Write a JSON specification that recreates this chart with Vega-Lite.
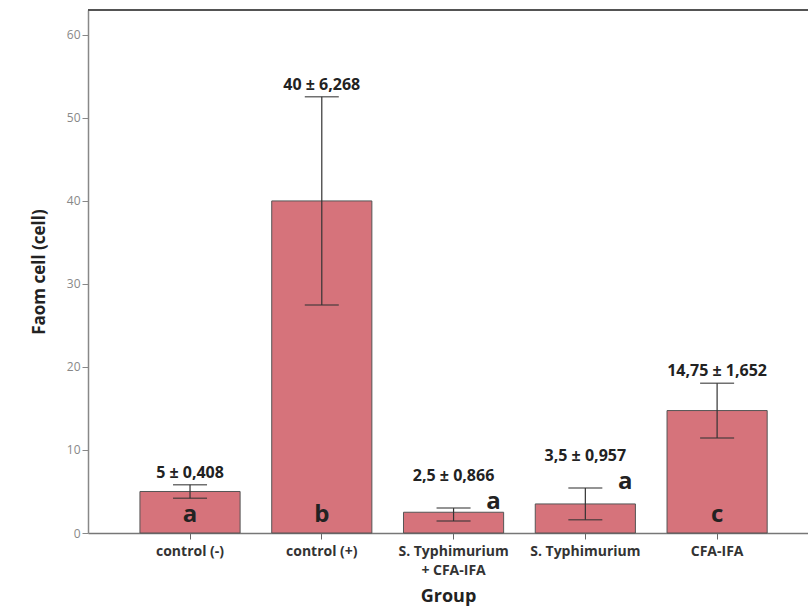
{
  "$schema": "https://vega.github.io/schema/vega-lite/v6.json",
  "width": 720,
  "height": 523,
  "autosize": {"type": "none"},
  "padding": {"left": 88, "top": 10, "right": 0, "bottom": 75},
  "background": "white",
  "config": {
    "view": {"stroke": null},
    "font": "Open Sans"
  },
  "data": {
    "values": [
      {"group": "control (-)", "mean": 5, "se": 0.408, "lo": 4.18, "hi": 5.82, "letter": "a", "label": "5 ± 0,408", "letterSpot": "inside"},
      {"group": "control (+)", "mean": 40, "se": 6.268, "lo": 27.46, "hi": 52.54, "letter": "b", "label": "40 ± 6,268", "letterSpot": "inside"},
      {"group": "S. Typhimurium + CFA-IFA", "mean": 2.5, "se": 0.866, "lo": 1.45, "hi": 3.0, "letter": "a", "label": "2,5 ± 0,866", "letterSpot": "beside"},
      {"group": "S. Typhimurium", "mean": 3.5, "se": 0.957, "lo": 1.59, "hi": 5.41, "letter": "a", "label": "3,5 ± 0,957", "letterSpot": "beside"},
      {"group": "CFA-IFA", "mean": 14.75, "se": 1.652, "lo": 11.45, "hi": 18.05, "letter": "c", "label": "14,75 ± 1,652", "letterSpot": "inside"}
    ]
  },
  "encoding": {
    "x": {
      "field": "group",
      "type": "nominal",
      "sort": null,
      "scale": {"paddingInner": 0.24, "paddingOuter": 0.352, "align": 0.56},
      "axis": {
        "title": "Group",
        "titleFont": "Open Sans",
        "titleFontSize": 18,
        "titleFontWeight": "bold",
        "titleColor": "#222",
        "titlePadding": 10,
        "labelAngle": 0,
        "labelFont": "Open Sans",
        "labelFontSize": 14,
        "labelFontWeight": "bold",
        "labelColor": "#333",
        "labelPadding": 5,
        "labelExpr": "datum.value == 'S. Typhimurium + CFA-IFA' ? ['S. Typhimurium', '+ CFA-IFA'] : datum.value",
        "labelLineHeight": 19,
        "tickColor": "#666",
        "tickSize": 6,
        "domainColor": "#777",
        "domainWidth": 1.5
      }
    }
  },
  "layer": [
    {
      "mark": {"type": "rule", "color": "#555", "strokeWidth": 1.5},
      "encoding": {"y": {"datum": 63, "type": "quantitative"}, "x": null}
    },
    {
      "mark": {"type": "bar", "color": "#d6737b", "stroke": "#555", "strokeWidth": 1},
      "encoding": {
        "y": {
          "field": "mean",
          "type": "quantitative",
          "scale": {"domain": [0, 63], "nice": false},
          "axis": {
            "title": "Faom cell (cell)",
            "titleFont": "Open Sans",
            "titleFontSize": 17,
            "titleFontWeight": "bold",
            "titleColor": "#222",
            "titlePadding": 18,
            "values": [0, 10, 20, 30, 40, 50, 60],
            "labelFont": "Open Sans",
            "labelFontSize": 12,
            "labelColor": "#888",
            "labelPadding": 2,
            "tickColor": "#888",
            "tickSize": 6,
            "domainColor": "#888",
            "domainWidth": 1.5,
            "grid": false
          }
        }
      }
    },
    {
      "mark": {"type": "rule", "color": "#333", "strokeWidth": 1.2},
      "encoding": {
        "y": {"field": "lo", "type": "quantitative"},
        "y2": {"field": "hi"}
      }
    },
    {
      "mark": {"type": "tick", "color": "#333", "size": 34, "thickness": 1.5, "orient": "horizontal"},
      "encoding": {"y": {"field": "lo", "type": "quantitative"}}
    },
    {
      "mark": {"type": "tick", "color": "#333", "size": 34, "thickness": 1.5, "orient": "horizontal"},
      "encoding": {"y": {"field": "hi", "type": "quantitative"}}
    },
    {
      "transform": [{"filter": "datum.letterSpot == 'inside'"}],
      "mark": {"type": "text", "font": "Open Sans", "fontSize": 16, "fontWeight": "bold", "color": "#222", "baseline": "middle", "dy": -12},
      "encoding": {
        "y": {"field": "hi", "type": "quantitative"},
        "text": {"field": "label"}
      }
    },
    {
      "transform": [{"filter": "datum.letterSpot == 'beside'"}],
      "mark": {"type": "text", "font": "Open Sans", "fontSize": 16, "fontWeight": "bold", "color": "#222", "baseline": "middle", "dy": -32},
      "encoding": {
        "y": {"field": "hi", "type": "quantitative"},
        "text": {"field": "label"}
      }
    },
    {
      "transform": [{"filter": "datum.letterSpot == 'inside'"}],
      "mark": {"type": "text", "font": "Open Sans", "fontSize": 24, "fontWeight": "bold", "color": "#222", "baseline": "middle", "dy": -18},
      "encoding": {
        "y": {"datum": 0, "type": "quantitative"},
        "text": {"field": "letter"}
      }
    },
    {
      "transform": [{"filter": "datum.letterSpot == 'beside'"}],
      "mark": {"type": "text", "font": "Open Sans", "fontSize": 24, "fontWeight": "bold", "color": "#222", "baseline": "middle", "dx": 40, "dy": -6},
      "encoding": {
        "y": {"field": "hi", "type": "quantitative"},
        "text": {"field": "letter"}
      }
    }
  ]
}
